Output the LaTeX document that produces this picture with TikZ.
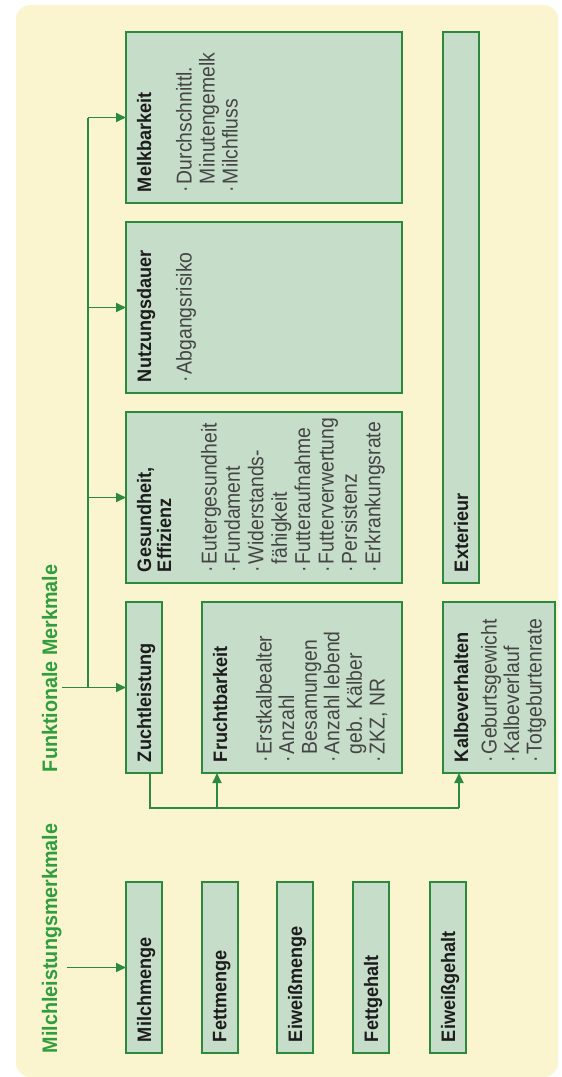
\documentclass[tikz,border=0pt]{standalone}
\usepackage{fontspec}
\setmainfont{Liberation Sans}
\newfontfamily\hdfont{Liberation Sans}[FakeStretch=0.93]
\newfontfamily\itfont{Liberation Sans}[FakeStretch=0.9]
\newfontfamily\ttlfont{Liberation Sans}[FakeStretch=0.94]
\usetikzlibrary{arrows.meta,calc}
\definecolor{bgc}{HTML}{FAF5CE}
\definecolor{boxfill}{HTML}{C6DDC9}
\definecolor{boxline}{HTML}{2B8A3E}
\definecolor{ttlgreen}{HTML}{2E9E3E}
\definecolor{txt}{HTML}{1C1C1C}
\definecolor{itxt}{HTML}{444444}
\newcommand\itmdot{\makebox[8pt][l]{·}}
\newcommand\itmind{\hspace*{8pt}}
\tikzset{
  box/.style={draw=boxline, fill=boxfill, line width=1.7pt, inner sep=0pt, outer sep=0pt},
  head/.style={rotate=90, anchor=north west, inner sep=0pt, outer sep=0pt, align=left, text=txt,
    font=\hdfont\bfseries\fontsize{19.5}{20}\selectfont},
  items/.style={rotate=90, anchor=north west, inner sep=0pt, outer sep=0pt, align=left, text=itxt,
    font=\itfont\fontsize{21.5}{#1}\selectfont},
  items/.default=23,
  ttl/.style={rotate=90, anchor=north west, inner sep=0pt, outer sep=0pt, text=ttlgreen,
    font=\ttlfont\bfseries\fontsize{21}{22}\selectfont},
  conn/.style={draw=boxline, line width=1.8pt},
  arr/.style={conn, -{Triangle[length=10pt,width=9pt]}},
}
\begin{document}
\begin{tikzpicture}[x=1pt,y=-1pt]
\useasboundingbox (0,0) rectangle (562,1077);
\fill[bgc, rounded corners=14pt] (16,5) rectangle (558,1077);

% bottom row
\node[box, minimum width=36pt, minimum height=171pt] (milch) at (144,967.5) {};
\node[box, minimum width=36pt, minimum height=171pt] (fett) at (220,967.5) {};
\node[box, minimum width=36pt, minimum height=171pt] (eiwm) at (295,967.5) {};
\node[box, minimum width=36pt, minimum height=171pt] (fettg) at (371,967.5) {};
\node[box, minimum width=36pt, minimum height=171pt] (eiwg) at (448,967.5) {};
% middle row
\node[box, minimum width=36pt, minimum height=171pt] (zucht) at (144,687.5) {};
\node[box, minimum width=200pt, minimum height=171pt] (frucht) at (302,687.5) {};
\node[box, minimum width=112pt, minimum height=171pt] (kalb) at (499,687.5) {};
% top rows
\node[box, minimum width=276pt, minimum height=171pt] (ges) at (264,497.5) {};
\node[box, minimum width=276pt, minimum height=171pt] (nutz) at (264,307.5) {};
\node[box, minimum width=276pt, minimum height=171pt] (melk) at (264,117.5) {};
\node[box, minimum width=36pt, minimum height=551pt] (ext) at (461,307.5) {};

% titles
\node[ttl] (tM) at (42,1053) {Milchleistungsmerkmale};
\node[ttl] (tF) at (42,772) {Funktionale Merkmale};

% headings
\node[head] (hmilch) at ($(milch.south west)+(11,-11)$) {Milchmenge};
\node[head] (hfett) at ($(fett.south west)+(11,-11)$) {Fettmenge};
\node[head] (heiwm) at ($(eiwm.south west)+(11,-11)$) {Eiweißmenge};
\node[head] (hfettg) at ($(fettg.south west)+(11,-11)$) {Fettgehalt};
\node[head] (heiwg) at ($(eiwg.south west)+(11,-11)$) {Eiweißgehalt};
\node[head] (hzucht) at ($(zucht.south west)+(11,-11)$) {Zuchtleistung};
\node[head] (hfrucht) at ($(frucht.south west)+(11,-11)$) {Fruchtbarkeit};
\node[head] (hkalb) at ($(kalb.south west)+(11,-11)$) {Kalbeverhalten};
\node[head] (hges) at ($(ges.south west)+(11,-11)$) {Gesundheit,\\Effizienz};
\node[head] (hnutz) at ($(nutz.south west)+(11,-11)$) {Nutzungsdauer};
\node[head] (hmelk) at ($(melk.south west)+(11,-11)$) {Melkbarkeit};
\node[head] (hext) at ($(ext.south west)+(11,-11)$) {Exterieur};

% item lists
\node[items=23] (imelk) at ($(melk.south west)+(50,-11)$)
  {\itmdot Durchschnittl.\\\itmind Minutengemelk\\\itmdot Milchfluss};
\node[items=23] (inutz) at ($(nutz.south west)+(50,-11)$)
  {\itmdot Abgangsrisiko};
\node[items=23.4] (iges) at ($(ges.south west)+(75,-11)$)
  {\itmdot Eutergesundheit\\\itmdot Fundament\\\itmdot Widerstands-\\\itmind fähigkeit\\\itmdot Futteraufnahme\\\itmdot Futterverwertung\\\itmdot Persistenz\\\itmdot Erkrankungsrate};
\node[items=22.6] (ifrucht) at ($(frucht.south west)+(54,-11)$)
  {\itmdot Erstkalbealter\\\itmdot Anzahl\\\itmind Besamungen\\\itmdot Anzahl lebend\\\itmind geb. Kälber\\\itmdot ZKZ, NR};
\node[items=22.5] (ikalb) at ($(kalb.south west)+(38,-11)$)
  {\itmdot Geburtsgewicht\\\itmdot Kalbeverlauf\\\itmdot Totgeburtenrate};

% connectors
\draw[arr] ($(tM.south |- milch.west)+(5,0)$) -- (milch.west);
\coordinate (bus) at (88,0);
\draw[conn] ($(tF.south |- zucht.west)+(5,0)$) -- (bus |- zucht.west) -- (bus |- melk.west);
\draw[arr] (bus |- zucht.west) -- (zucht.west);
\draw[arr] (bus |- ges.west) -- (ges.west);
\draw[arr] (bus |- nutz.west) -- (nutz.west);
\draw[arr] (bus |- melk.west) -- (melk.west);

\coordinate (k1) at ($(zucht.south west)+(24,35)$);
\coordinate (k2) at ($(kalb.south west)+(16,35)$);
\coordinate (k3) at ($(frucht.south west)+(15,35)$);
\draw[conn] (zucht.south -| k1) -- (k1) -- (k2);
\draw[arr] (k2) -- (k2 |- kalb.south);
\draw[arr] (k3) -- (k3 |- frucht.south);
\end{tikzpicture}
\end{document}
